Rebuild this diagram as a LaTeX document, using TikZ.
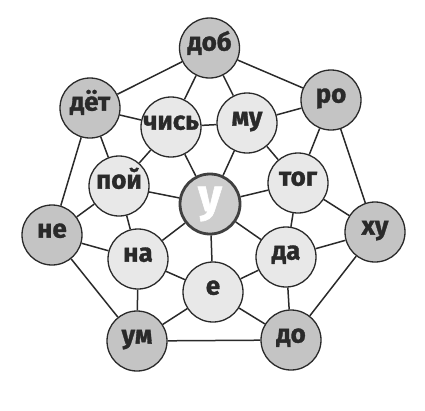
\documentclass[tikz,border=0pt]{standalone}
\usepackage{fontspec}
\setmainfont{Fira Sans}
\newfontfamily\sylfont{Fira Sans}[BoldFeatures={FakeBold=1.2}]
\definecolor{outerfill}{HTML}{C4C4C4}
\definecolor{innerfill}{HTML}{E8E8E8}
\definecolor{hubfill}{HTML}{CDCDCD}
\definecolor{ink}{HTML}{2A2A2A}
\tikzset{
  syl/.style={circle,draw=ink,line width=1.3pt,minimum size=60pt,inner sep=0pt,
    font=\sylfont\bfseries\fontsize{26}{26}\selectfont,text=ink,text height=1ex,text depth=0pt},
  outer/.style={syl,fill=outerfill},
  inner/.style={syl,fill=innerfill},
  hub/.style={syl,fill=hubfill,draw=black!75,line width=2.8pt,minimum size=60pt,
    text=white,font=\sylfont\bfseries\fontsize{46}{46}\selectfont,text height=,text depth=},
  link/.style={draw=ink,line width=1.5pt}
}
\begin{document}
\begin{tikzpicture}[x=1pt,y=-1pt]
  \useasboundingbox (0,0) rectangle (425,410);
  \node[outer] (dob) at (209.5,48) {доб};
  \node[outer] (ro) at (331,100) {ро};
  \node[outer] (khu) at (375,232) {ху};
  \node[outer] (do) at (291,340) {до};
  \node[outer] (um) at (137,341) {ум};
  \node[outer] (ne) at (52,235) {не};
  \node[outer] (dyot) at (90,108) {дёт};
  \node[inner] (chis) at (171,127) {чись};
  \node[inner] (mu) at (247,123) {му};
  \node[inner] (tog) at (298,183) {тог};
  \node[inner] (da) at (286,257) {да};
  \node[inner] (e) at (213,292) {е};
  \node[inner] (na) at (138,259) {на};
  \node[inner] (poy) at (119,186) {пой};
  \node[hub] (u) at (210,204) {у};
  \foreach \a/\b in {dob/ro,ro/khu,khu/do,do/um,um/ne,ne/dyot,dyot/dob,
      chis/mu,mu/tog,tog/da,da/e,e/na,na/poy,poy/chis,
      dob/chis,dob/mu,ro/mu,ro/tog,khu/tog,khu/da,do/da,do/e,
      um/e,um/na,ne/na,ne/poy,dyot/poy,dyot/chis}
    \draw[link] (\a) -- (\b);
  \foreach \b in {chis,mu,tog,da,e,na,poy}
    \draw[link] (u) -- (\b);
\end{tikzpicture}
\end{document}
